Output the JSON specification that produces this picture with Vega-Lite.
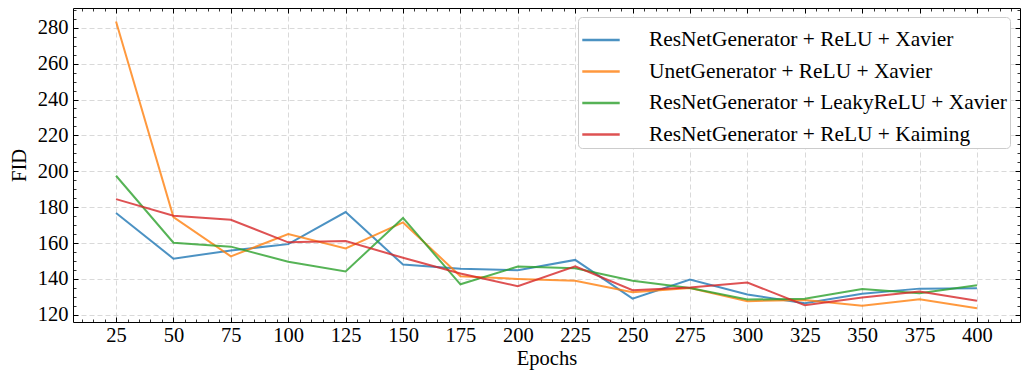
{
  "$schema": "https://vega.github.io/schema/vega-lite/v6.json",
  "width": 947,
  "height": 314,
  "autosize": "none",
  "padding": {"left": 73, "top": 8, "right": 3, "bottom": 49},
  "background": "white",
  "config": {
    "font": "Liberation Serif",
    "view": {"stroke": null},
    "axis": {"labelFont": "Liberation Serif", "titleFont": "Liberation Serif", "labelColor": "black", "titleColor": "black", "tickColor": "black", "domainColor": "black", "titleFontWeight": "normal"}
  },
  "data": {"values": [
    {"epoch": 25, "model": "ResNetGenerator + ReLU + Xavier", "fid": 176.7},
    {"epoch": 50, "model": "ResNetGenerator + ReLU + Xavier", "fid": 151.3},
    {"epoch": 75, "model": "ResNetGenerator + ReLU + Xavier", "fid": 155.9},
    {"epoch": 100, "model": "ResNetGenerator + ReLU + Xavier", "fid": 159.4},
    {"epoch": 125, "model": "ResNetGenerator + ReLU + Xavier", "fid": 177.3},
    {"epoch": 150, "model": "ResNetGenerator + ReLU + Xavier", "fid": 148.0},
    {"epoch": 175, "model": "ResNetGenerator + ReLU + Xavier", "fid": 145.7},
    {"epoch": 200, "model": "ResNetGenerator + ReLU + Xavier", "fid": 144.8},
    {"epoch": 225, "model": "ResNetGenerator + ReLU + Xavier", "fid": 150.6},
    {"epoch": 250, "model": "ResNetGenerator + ReLU + Xavier", "fid": 129.0},
    {"epoch": 275, "model": "ResNetGenerator + ReLU + Xavier", "fid": 139.6},
    {"epoch": 300, "model": "ResNetGenerator + ReLU + Xavier", "fid": 131.3},
    {"epoch": 325, "model": "ResNetGenerator + ReLU + Xavier", "fid": 126.5},
    {"epoch": 350, "model": "ResNetGenerator + ReLU + Xavier", "fid": 131.7},
    {"epoch": 375, "model": "ResNetGenerator + ReLU + Xavier", "fid": 134.6},
    {"epoch": 400, "model": "ResNetGenerator + ReLU + Xavier", "fid": 134.8},
    {"epoch": 25, "model": "UnetGenerator + ReLU + Xavier", "fid": 283.5},
    {"epoch": 50, "model": "UnetGenerator + ReLU + Xavier", "fid": 174.5},
    {"epoch": 75, "model": "UnetGenerator + ReLU + Xavier", "fid": 152.6},
    {"epoch": 100, "model": "UnetGenerator + ReLU + Xavier", "fid": 165.0},
    {"epoch": 125, "model": "UnetGenerator + ReLU + Xavier", "fid": 157.0},
    {"epoch": 150, "model": "UnetGenerator + ReLU + Xavier", "fid": 171.5},
    {"epoch": 175, "model": "UnetGenerator + ReLU + Xavier", "fid": 141.5},
    {"epoch": 200, "model": "UnetGenerator + ReLU + Xavier", "fid": 140.0},
    {"epoch": 225, "model": "UnetGenerator + ReLU + Xavier", "fid": 139.0},
    {"epoch": 250, "model": "UnetGenerator + ReLU + Xavier", "fid": 132.6},
    {"epoch": 275, "model": "UnetGenerator + ReLU + Xavier", "fid": 135.0},
    {"epoch": 300, "model": "UnetGenerator + ReLU + Xavier", "fid": 127.6},
    {"epoch": 325, "model": "UnetGenerator + ReLU + Xavier", "fid": 128.3},
    {"epoch": 350, "model": "UnetGenerator + ReLU + Xavier", "fid": 125.0},
    {"epoch": 375, "model": "UnetGenerator + ReLU + Xavier", "fid": 128.7},
    {"epoch": 400, "model": "UnetGenerator + ReLU + Xavier", "fid": 123.7},
    {"epoch": 25, "model": "ResNetGenerator + LeakyReLU + Xavier", "fid": 197.5},
    {"epoch": 50, "model": "ResNetGenerator + LeakyReLU + Xavier", "fid": 160.2},
    {"epoch": 75, "model": "ResNetGenerator + LeakyReLU + Xavier", "fid": 158.0},
    {"epoch": 100, "model": "ResNetGenerator + LeakyReLU + Xavier", "fid": 149.6},
    {"epoch": 125, "model": "ResNetGenerator + LeakyReLU + Xavier", "fid": 144.2},
    {"epoch": 150, "model": "ResNetGenerator + LeakyReLU + Xavier", "fid": 174.0},
    {"epoch": 175, "model": "ResNetGenerator + LeakyReLU + Xavier", "fid": 137.0},
    {"epoch": 200, "model": "ResNetGenerator + LeakyReLU + Xavier", "fid": 146.9},
    {"epoch": 225, "model": "ResNetGenerator + LeakyReLU + Xavier", "fid": 146.0},
    {"epoch": 250, "model": "ResNetGenerator + LeakyReLU + Xavier", "fid": 139.0},
    {"epoch": 275, "model": "ResNetGenerator + LeakyReLU + Xavier", "fid": 135.0},
    {"epoch": 300, "model": "ResNetGenerator + LeakyReLU + Xavier", "fid": 128.5},
    {"epoch": 325, "model": "ResNetGenerator + LeakyReLU + Xavier", "fid": 128.9},
    {"epoch": 350, "model": "ResNetGenerator + LeakyReLU + Xavier", "fid": 134.4},
    {"epoch": 375, "model": "ResNetGenerator + LeakyReLU + Xavier", "fid": 132.0},
    {"epoch": 400, "model": "ResNetGenerator + LeakyReLU + Xavier", "fid": 136.5},
    {"epoch": 25, "model": "ResNetGenerator + ReLU + Kaiming", "fid": 184.5},
    {"epoch": 50, "model": "ResNetGenerator + ReLU + Kaiming", "fid": 175.2},
    {"epoch": 75, "model": "ResNetGenerator + ReLU + Kaiming", "fid": 173.0},
    {"epoch": 100, "model": "ResNetGenerator + ReLU + Kaiming", "fid": 160.4},
    {"epoch": 125, "model": "ResNetGenerator + ReLU + Kaiming", "fid": 161.1},
    {"epoch": 150, "model": "ResNetGenerator + ReLU + Kaiming", "fid": 151.8},
    {"epoch": 175, "model": "ResNetGenerator + ReLU + Kaiming", "fid": 143.0},
    {"epoch": 200, "model": "ResNetGenerator + ReLU + Kaiming", "fid": 136.0},
    {"epoch": 225, "model": "ResNetGenerator + ReLU + Kaiming", "fid": 147.0},
    {"epoch": 250, "model": "ResNetGenerator + ReLU + Kaiming", "fid": 133.7},
    {"epoch": 275, "model": "ResNetGenerator + ReLU + Kaiming", "fid": 135.2},
    {"epoch": 300, "model": "ResNetGenerator + ReLU + Kaiming", "fid": 138.0},
    {"epoch": 325, "model": "ResNetGenerator + ReLU + Kaiming", "fid": 125.4},
    {"epoch": 350, "model": "ResNetGenerator + ReLU + Kaiming", "fid": 129.6},
    {"epoch": 375, "model": "ResNetGenerator + ReLU + Kaiming", "fid": 133.0},
    {"epoch": 400, "model": "ResNetGenerator + ReLU + Kaiming", "fid": 127.8}
  ]},
  "resolve": {"axis": {"x": "independent", "y": "independent"}},
  "layer": [
    {
      "mark": {"type": "line", "strokeWidth": 2, "opacity": 0.8},
      "encoding": {
        "x": {"field": "epoch", "type": "quantitative",
          "scale": {"domain": [6.25, 418.75], "nice": false, "zero": false},
          "axis": {"orient": "bottom", "title": "Epochs", "titleFontSize": 20.5, "titlePadding": 3,
            "values": [25, 50, 75, 100, 125, 150, 175, 200, 225, 250, 275, 300, 325, 350, 375, 400],
            "labelFontSize": 20.5, "tickSize": -5, "labelPadding": 8, "domainWidth": 1, "tickWidth": 1,
            "grid": true, "gridDash": [5, 3], "gridColor": "#cfcfcf", "gridWidth": 0.8, "labelFlush": false}},
        "y": {"field": "fid", "type": "quantitative",
          "scale": {"domain": [116, 291], "nice": false, "zero": false},
          "axis": {"orient": "left", "title": "FID", "titleFontSize": 20.5, "titlePadding": 8,
            "values": [120, 140, 160, 180, 200, 220, 240, 260, 280],
            "labelFontSize": 20.5, "tickSize": -5, "labelPadding": 10, "domainWidth": 1, "tickWidth": 1,
            "grid": true, "gridDash": [5, 3], "gridColor": "#cfcfcf", "gridWidth": 0.8}},
        "color": {"field": "model", "type": "nominal",
          "sort": ["ResNetGenerator + ReLU + Xavier", "UnetGenerator + ReLU + Xavier", "ResNetGenerator + LeakyReLU + Xavier", "ResNetGenerator + ReLU + Kaiming"],
          "scale": {"domain": ["ResNetGenerator + ReLU + Xavier", "UnetGenerator + ReLU + Xavier", "ResNetGenerator + LeakyReLU + Xavier", "ResNetGenerator + ReLU + Kaiming"],
            "range": ["#1f77b4", "#ff7f0e", "#2ca02c", "#d62728"]},
          "legend": {"title": null, "orient": "none", "legendX": 505, "legendY": 9,
            "symbolType": "stroke", "symbolSize": 1400, "symbolStrokeWidth": 2.5, "symbolOpacity": 0.8,
            "labelFontSize": 21.4, "labelFont": "Liberation Serif", "labelColor": "black", "labelLimit": 500, "labelOffset": 28,
            "rowPadding": 0.5, "padding": 3, "fillColor": "white", "strokeColor": "#cccccc", "cornerRadius": 4}}
      }
    },
    {
      "mark": {"type": "point", "opacity": 0},
      "encoding": {
        "x": {"field": "epoch", "type": "quantitative",
          "axis": {"orient": "bottom", "title": null, "labels": false, "domain": false, "grid": false, "tickSize": -3, "tickWidth": 0.8,
            "values": [10, 15, 20, 30, 35, 40, 45, 55, 60, 65, 70, 80, 85, 90, 95, 105, 110, 115, 120, 130, 135, 140, 145, 155, 160, 165, 170, 180, 185, 190, 195, 205, 210, 215, 220, 230, 235, 240, 245, 255, 260, 265, 270, 280, 285, 290, 295, 305, 310, 315, 320, 330, 335, 340, 345, 355, 360, 365, 370, 380, 385, 390, 395, 405, 410, 415]}},
        "y": {"field": "fid", "type": "quantitative",
          "axis": {"orient": "left", "title": null, "labels": false, "domain": false, "grid": false, "tickSize": -3, "tickWidth": 0.8,
            "values": [125, 130, 135, 145, 150, 155, 165, 170, 175, 185, 190, 195, 205, 210, 215, 225, 230, 235, 245, 250, 255, 265, 270, 275, 285, 290]}}
      }
    },
    {
      "mark": {"type": "point", "opacity": 0},
      "encoding": {
        "x": {"field": "epoch", "type": "quantitative",
          "axis": {"orient": "top", "title": null, "labels": false, "domain": true, "domainWidth": 1, "grid": false, "tickSize": -5, "tickWidth": 1,
            "values": [25, 50, 75, 100, 125, 150, 175, 200, 225, 250, 275, 300, 325, 350, 375, 400]}},
        "y": {"field": "fid", "type": "quantitative",
          "axis": {"orient": "right", "title": null, "labels": false, "domain": true, "domainWidth": 1, "grid": false, "tickSize": -5, "tickWidth": 1,
            "values": [120, 140, 160, 180, 200, 220, 240, 260, 280]}}
      }
    },
    {
      "mark": {"type": "point", "opacity": 0},
      "encoding": {
        "x": {"field": "epoch", "type": "quantitative",
          "axis": {"orient": "top", "title": null, "labels": false, "domain": false, "grid": false, "tickSize": -3, "tickWidth": 0.8,
            "values": [10, 15, 20, 30, 35, 40, 45, 55, 60, 65, 70, 80, 85, 90, 95, 105, 110, 115, 120, 130, 135, 140, 145, 155, 160, 165, 170, 180, 185, 190, 195, 205, 210, 215, 220, 230, 235, 240, 245, 255, 260, 265, 270, 280, 285, 290, 295, 305, 310, 315, 320, 330, 335, 340, 345, 355, 360, 365, 370, 380, 385, 390, 395, 405, 410, 415]}},
        "y": {"field": "fid", "type": "quantitative",
          "axis": {"orient": "right", "title": null, "labels": false, "domain": false, "grid": false, "tickSize": -3, "tickWidth": 0.8,
            "values": [125, 130, 135, 145, 150, 155, 165, 170, 175, 185, 190, 195, 205, 210, 215, 225, 230, 235, 245, 250, 255, 265, 270, 275, 285, 290]}}
      }
    }
  ]
}
